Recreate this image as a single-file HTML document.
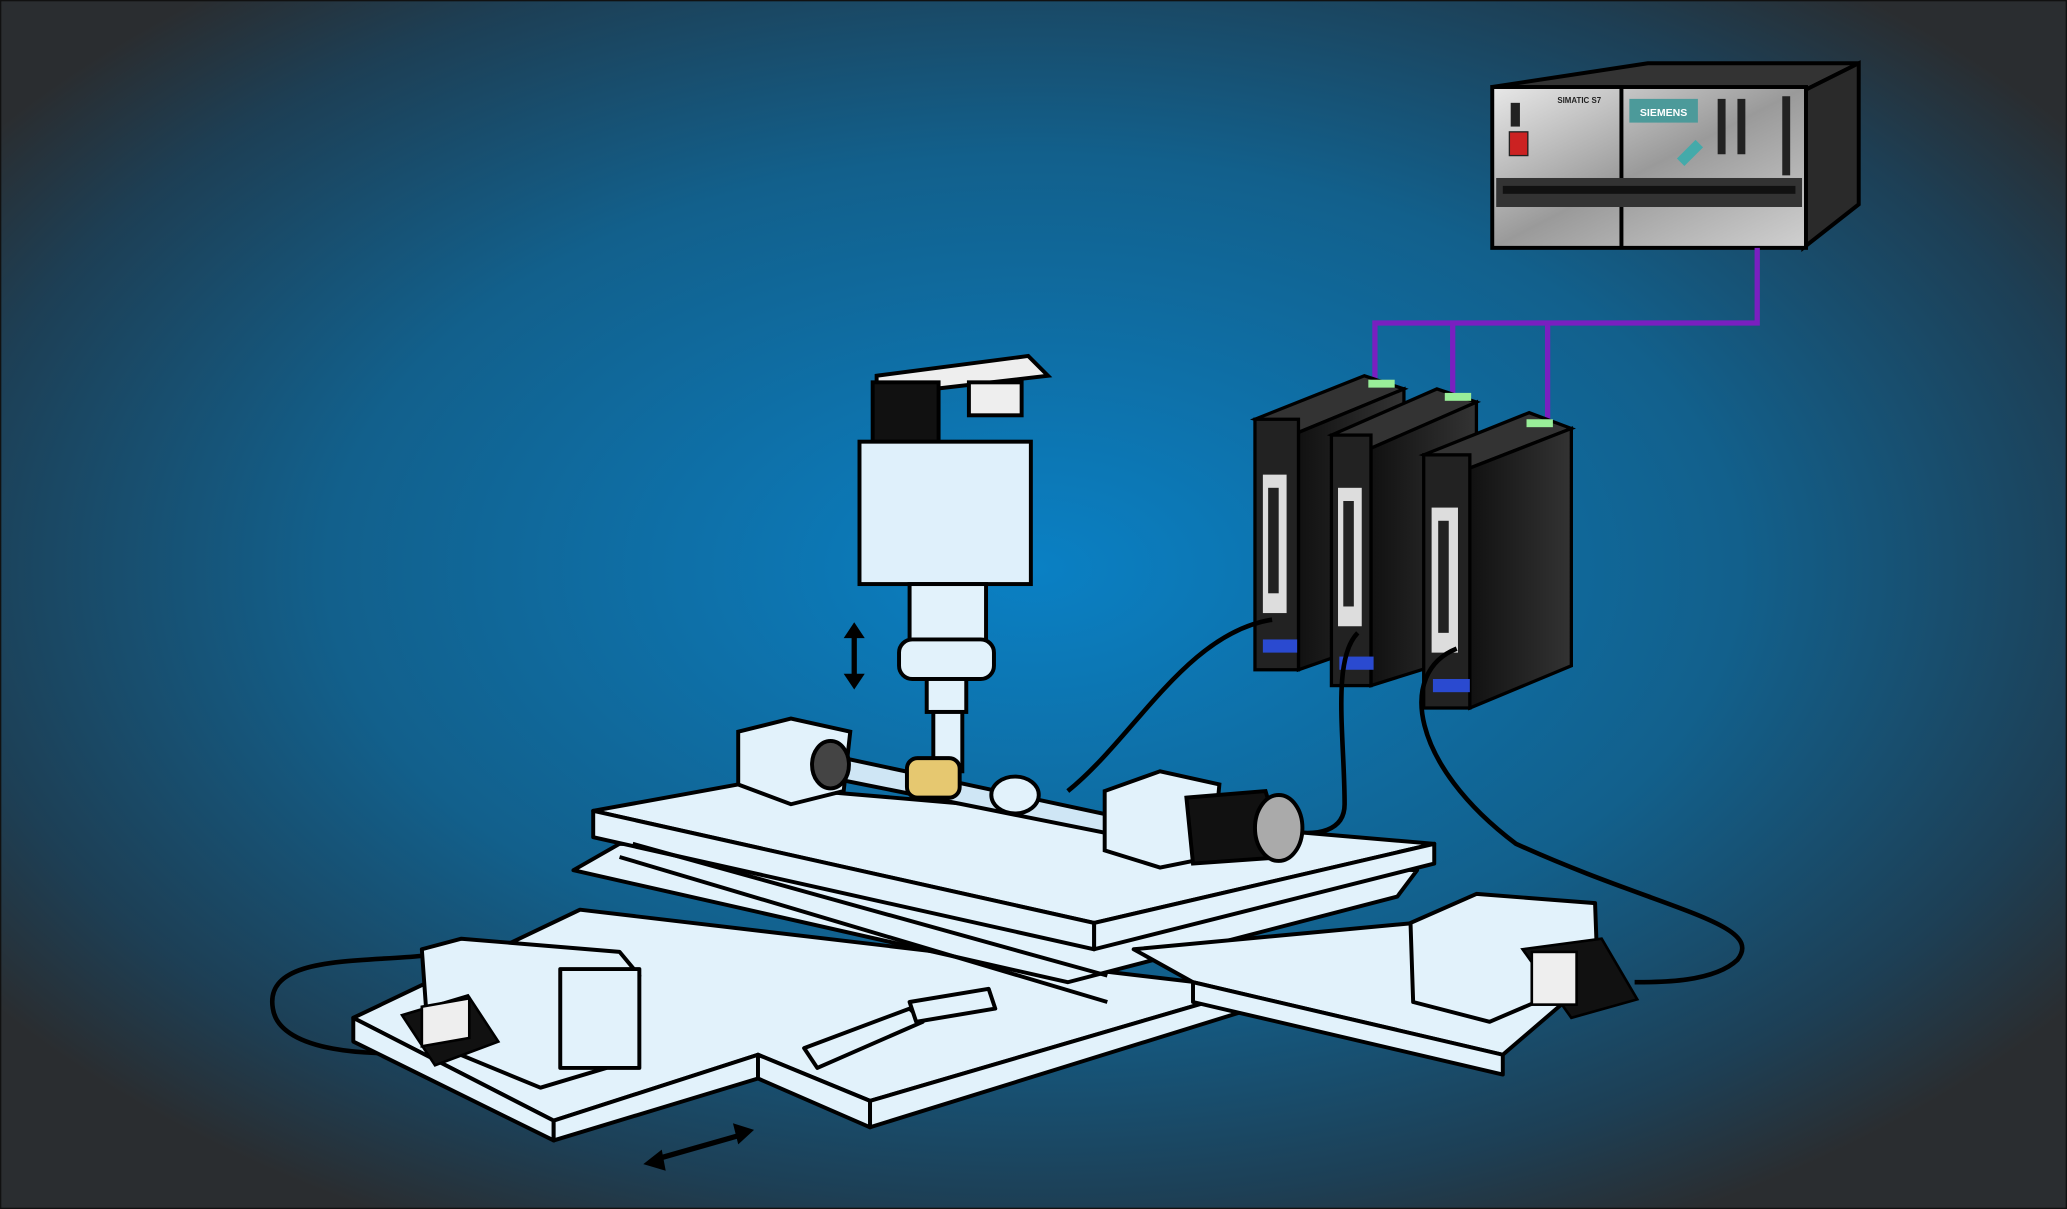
<!DOCTYPE html>
<html><head><meta charset="utf-8"><style>
html,body{margin:0;padding:0;width:2067px;height:1209px;overflow:hidden;background:#222}
svg{display:block}
</style></head><body>
<svg width="2067" height="1209" viewBox="0 0 1568 917" preserveAspectRatio="none" xmlns="http://www.w3.org/2000/svg">
<defs>
<radialGradient id="bg" cx="0.5" cy="0.47" r="0.62">
<stop offset="0" stop-color="#0a80c4"/>
<stop offset="0.55" stop-color="#12608c"/>
<stop offset="0.85" stop-color="#1d3f55"/>
<stop offset="1" stop-color="#2a2d30"/>
</radialGradient>
<linearGradient id="met" x1="0" y1="0" x2="1" y2="1">
<stop offset="0" stop-color="#e8e8e8"/><stop offset="0.5" stop-color="#9a9a9a"/><stop offset="1" stop-color="#d0d0d0"/>
</linearGradient>
<linearGradient id="drv" x1="0" y1="0" x2="1" y2="0">
<stop offset="0" stop-color="#111"/><stop offset="1" stop-color="#333"/>
</linearGradient>
</defs>
<rect x="0" y="0" width="1568" height="917" fill="url(#bg)" stroke="#111" stroke-width="2"/>

<!-- PLC -->
<g stroke="#000" stroke-width="3">
<polygon points="1132,66 1250,48 1410,48 1370,68" fill="#333"/>
<polygon points="1370,68 1410,48 1410,155 1368,188" fill="#2a2a2a"/>
<rect x="1132" y="66" width="238" height="122" fill="url(#met)"/>
<line x1="1230" y1="66" x2="1230" y2="188"/>
</g>
<rect x="1135" y="135" width="232" height="22" fill="#333"/>
<rect x="1140" y="141" width="222" height="6" fill="#111"/>
<rect x="1236" y="75" width="52" height="18" fill="#4c9a9a"/>
<text x="1262" y="88" font-family="Liberation Sans, sans-serif" font-size="8" font-weight="bold" fill="#fff" text-anchor="middle">SIEMENS</text>
<text x="1198" y="78" font-family="Liberation Sans, sans-serif" font-size="6" font-weight="bold" fill="#222" text-anchor="middle">SIMATIC S7</text>
<rect x="1145" y="100" width="14" height="18" fill="#c22" stroke="#222"/>
<rect x="1146" y="78" width="7" height="18" fill="#222"/>
<rect x="1303" y="75" width="6" height="42" fill="#222"/><rect x="1318" y="75" width="6" height="42" fill="#222"/>
<rect x="1352" y="73" width="6" height="60" fill="#222"/>
<rect x="1272" y="112" width="20" height="8" fill="#4aa" transform="rotate(-45 1282 116)"/>

<!-- purple bus -->
<g stroke="#7a1fc0" stroke-width="4" fill="none">
<polyline points="1333,188 1333,245 1043,245 1043,290"/>
<line x1="1102" y1="245" x2="1102" y2="300"/>
<line x1="1174" y1="245" x2="1174" y2="318"/>
</g>

<!-- drives -->
<g stroke="#000" stroke-width="2.5">
<polygon points="952,318 1035,285 1065,295 985,328" fill="#333"/>
<polygon points="985,328 1065,295 1065,480 985,508" fill="url(#drv)"/>
<rect x="952" y="318" width="33" height="190" fill="#222"/>
<polygon points="1010,330 1090,295 1120,305 1040,340" fill="#333"/>
<polygon points="1040,340 1120,305 1120,495 1040,520" fill="url(#drv)"/>
<rect x="1010" y="330" width="30" height="190" fill="#222"/>
<polygon points="1080,345 1160,313 1192,325 1115,355" fill="#333"/>
<polygon points="1115,355 1192,325 1192,505 1115,537" fill="url(#drv)"/>
<rect x="1080" y="345" width="35" height="192" fill="#222"/>
</g>
<g fill="#ddd">
<rect x="958" y="360" width="18" height="105"/><rect x="1015" y="370" width="18" height="105"/><rect x="1086" y="385" width="20" height="110"/>
</g>
<g fill="#222"><rect x="962" y="370" width="8" height="80"/><rect x="1019" y="380" width="8" height="80"/><rect x="1091" y="395" width="8" height="85"/></g>
<g><rect x="958" y="485" width="26" height="10" fill="#2a4ad0"/><rect x="1016" y="498" width="26" height="10" fill="#2a4ad0"/><rect x="1087" y="515" width="28" height="10" fill="#2a4ad0"/>
<rect x="1038" y="288" width="20" height="6" fill="#9e9"/><rect x="1096" y="298" width="20" height="6" fill="#9e9"/><rect x="1158" y="318" width="20" height="6" fill="#9e9"/></g>

<!-- cables -->
<g stroke="#000" stroke-width="3.5" fill="none">
<path d="M965,470 C900,480 860,560 810,600"/>
<path d="M1030,480 C1010,500 1020,560 1020,610 C1020,630 1000,635 975,630"/>
<path d="M1105,492 C1060,510 1070,580 1150,640 C1260,690 1340,700 1318,728 C1300,745 1260,745 1240,745"/>
<path d="M320,725 C270,730 200,725 207,765 C212,800 290,800 308,798"/>
</g>

<!-- base -->
<g stroke="#000" stroke-width="3" fill="#e2f2fb" stroke-linejoin="round">
<polygon points="268,772 440,690 950,750 660,835 575,800 420,850"/>
<polygon points="268,772 420,850 420,865 268,790"/>
<polygon points="420,850 575,800 575,818 420,865"/>
<polygon points="575,800 660,835 660,855 575,818"/>
<polygon points="660,835 950,750 950,765 660,855"/>
<!-- upper long slide -->
<polygon points="435,660 470,640 1075,660 1060,680 810,745"/>
<polygon points="860,720 1180,690 1210,740 1140,800 905,745"/>
<polygon points="905,745 1140,800 1140,815 905,760"/>
<!-- table -->
<polygon points="450,615 560,595 1088,640 830,700"/>
<polygon points="450,615 830,700 830,720 450,635"/>
<polygon points="830,700 1088,640 1088,655 830,720"/>
<line x1="480" y1="640" x2="840" y2="740"/>
<line x1="470" y1="650" x2="840" y2="760"/>
<!-- rails on base -->
<polygon points="610,795 690,765 700,775 620,810"/>
<polygon points="690,760 750,750 755,765 695,775"/>
<!-- left motor bracket -->
<polygon points="320,720 350,712 470,722 485,740 460,810 410,825 325,790"/>
<rect x="425" y="735" width="60" height="75"/>
<!-- right motor bracket -->
<polygon points="1070,700 1120,678 1210,685 1212,740 1130,775 1072,760"/>
</g>
<!-- left motor encoder -->
<g stroke="#000" stroke-width="2"><polygon points="305,770 355,755 378,790 330,808" fill="#111"/>
<rect x="320" y="762" width="36" height="30" fill="#eee" transform="skewY(-10) translate(0,58)"/></g>
<g stroke="#000" stroke-width="2"><polygon points="1155,720 1215,712 1242,758 1192,772" fill="#111"/>
<rect x="1162" y="722" width="34" height="40" fill="#eee"/></g>

<!-- spindle column -->
<g stroke="#000" stroke-width="3" fill="#e2f2fb">
<polygon points="665,285 780,270 795,285 665,300" fill="#eee"/>
<rect x="662" y="290" width="50" height="45" fill="#111"/>
<rect x="735" y="290" width="40" height="25" fill="#eee"/>
<rect x="652" y="335" width="130" height="108" fill="#dff0fb"/>
<rect x="690" y="443" width="58" height="45"/>
<rect x="682" y="485" width="72" height="30" rx="10"/>
<rect x="703" y="515" width="30" height="25"/>
<rect x="708" y="540" width="22" height="45"/>
</g>
<!-- arrows -->
<g fill="#000" stroke="#000" stroke-width="4">
<line x1="648" y1="480" x2="648" y2="515"/>
<line x1="495" y1="880" x2="565" y2="860"/>
</g>
<polygon points="640,484 648,472 656,484" fill="#000"/><polygon points="640,511 648,523 656,511" fill="#000"/>
<polygon points="488,883 502,872 505,888" fill="#000"/><polygon points="572,857 556,852 560,868" fill="#000"/>

<!-- workpiece / chuck -->
<g stroke="#000" stroke-width="3" fill="#e2f2fb">
<polygon points="560,555 600,545 645,555 640,600 600,610 560,595"/>
<polygon points="640,575 850,620 840,632 630,590" fill="#cfe6f5"/>
<ellipse cx="630" cy="580" rx="14" ry="18" fill="#444"/>
<rect x="688" y="575" width="40" height="30" rx="8" fill="#e6c870"/>
<ellipse cx="770" cy="603" rx="18" ry="14"/>
<polygon points="838,600 880,585 925,595 920,650 880,658 838,645"/>
<polygon points="900,605 960,600 975,650 905,655" fill="#111"/>
<ellipse cx="970" cy="628" rx="18" ry="25" fill="#aaa"/>
</g>
</svg>
</body></html>
